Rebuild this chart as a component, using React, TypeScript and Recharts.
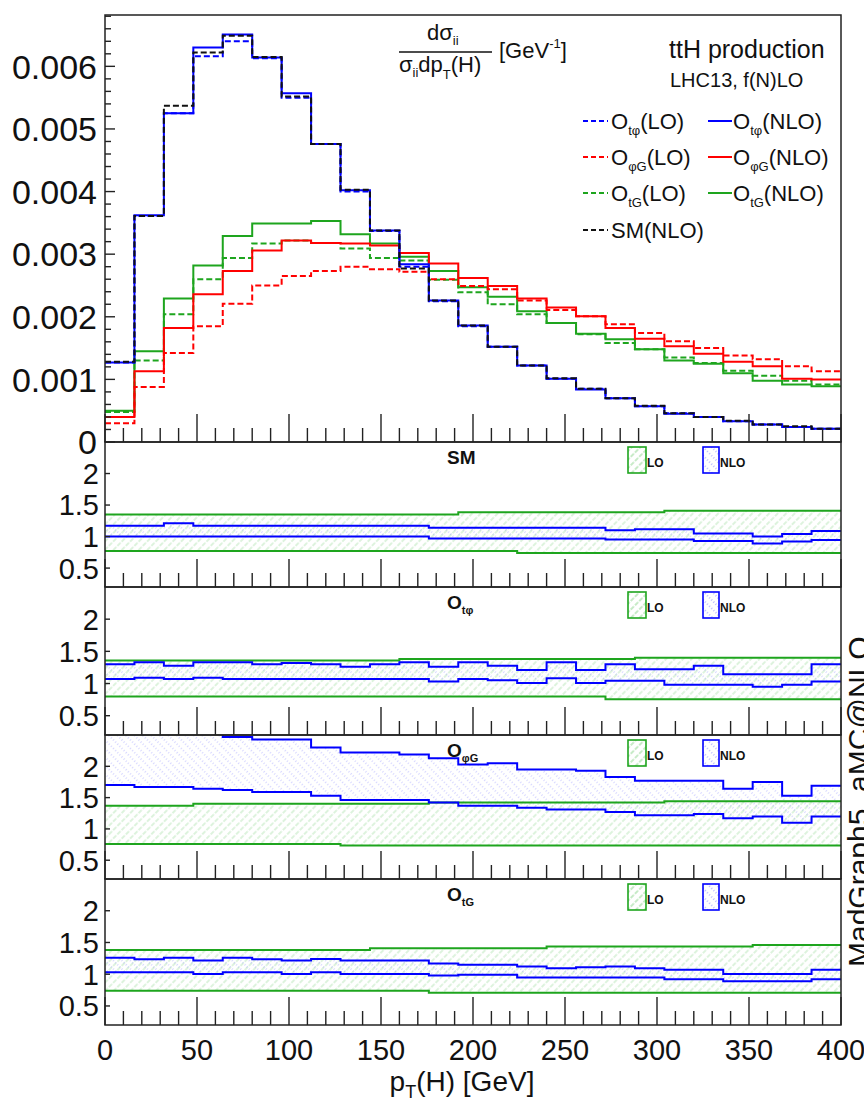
import React from 'react';
import { ComposedChart, Line, Area, XAxis, YAxis } from 'recharts';

const FONT = '"Liberation Sans", Arial, Helvetica, sans-serif';
const W = 864;
const H = 1102;
const PLOT_L = 105;
const PLOT_R = 841;
const MAIN_TOP = 15;
const MAIN_BOTTOM = 442;
const Y_AXIS_W = 60;
const X_AXIS_H = 30;

const BLUE = '#0000ff';
const RED = '#ff0000';
const GREEN = '#1ea51e';
const BLACK = '#111';
const FRAME = '#222';

// pT(H) bin edges, GeV
const binEdges = [0, 16, 32, 48, 64, 80, 96, 112, 128, 144, 160, 176, 192, 208, 224, 240, 256, 272, 288, 304, 320, 336, 352, 368, 384, 400];
const xTickLabels = [0, 50, 100, 150, 200, 250, 300, 350, 400];
const xTicks = Array.from({ length: 41 }, (_, i) => i * 10);

// main panel: normalised distributions
const tphiNLO = [0.00127, 0.00362, 0.00525, 0.0063, 0.00651, 0.00614, 0.00557, 0.00476, 0.00402, 0.00338, 0.00284, 0.00226, 0.00186, 0.00152, 0.00122, 0.00101, 0.00084, 0.0007, 0.00057, 0.00045, 0.0004, 0.00033, 0.00028, 0.00024, 0.00021];
const tphiLO = [0.00127, 0.00361, 0.00525, 0.00616, 0.0064, 0.00613, 0.0055, 0.00476, 0.004, 0.00337, 0.0028, 0.00225, 0.00185, 0.00152, 0.00122, 0.00101, 0.00085, 0.0007, 0.00057, 0.00046, 0.0004, 0.00033, 0.00028, 0.00024, 0.00021];
const smNLO = [0.00128, 0.00361, 0.00537, 0.00622, 0.00649, 0.00615, 0.00552, 0.00476, 0.00403, 0.00338, 0.00277, 0.00226, 0.00186, 0.00152, 0.00122, 0.00102, 0.00085, 0.0007, 0.00058, 0.00046, 0.0004, 0.00034, 0.00028, 0.00025, 0.00021];
const phiGNLO = [0.0004, 0.00113, 0.00182, 0.00236, 0.00273, 0.00306, 0.00322, 0.00318, 0.00317, 0.00314, 0.00302, 0.00285, 0.00262, 0.00249, 0.00229, 0.00215, 0.00201, 0.00182, 0.00165, 0.00153, 0.00141, 0.00128, 0.00121, 0.00101, 0.001];
const phiGLO = [0.0003, 0.00088, 0.00142, 0.00185, 0.00221, 0.0025, 0.00265, 0.00273, 0.0028, 0.00276, 0.00272, 0.0026, 0.00249, 0.00244, 0.00226, 0.00211, 0.00201, 0.00188, 0.00174, 0.00161, 0.0015, 0.00138, 0.00132, 0.00121, 0.00113];
const tGNLO = [0.0005, 0.00145, 0.00229, 0.00282, 0.00329, 0.00349, 0.00349, 0.00353, 0.00332, 0.00317, 0.00296, 0.00273, 0.00247, 0.00232, 0.00209, 0.0019, 0.00173, 0.00164, 0.00148, 0.0013, 0.00125, 0.0011, 0.00098, 0.00092, 0.00089];
const tGLO = [0.00048, 0.0013, 0.00204, 0.0026, 0.00294, 0.00317, 0.00322, 0.00318, 0.00309, 0.00294, 0.0029, 0.00259, 0.00239, 0.0022, 0.00204, 0.0019, 0.00172, 0.00158, 0.00148, 0.00135, 0.00126, 0.00114, 0.00106, 0.00098, 0.00092];

const mainYLabels = [0, 0.001, 0.002, 0.003, 0.004, 0.005, 0.006];
const mainYTicks = Array.from({ length: 35 }, (_, i) => +(i * 0.0002).toFixed(4));

// ratio panels: scale uncertainty bands
const smLoLow = [0.77, 0.77, 0.77, 0.77, 0.77, 0.77, 0.77, 0.77, 0.77, 0.77, 0.77, 0.77, 0.77, 0.77, 0.74, 0.74, 0.74, 0.74, 0.74, 0.74, 0.74, 0.74, 0.74, 0.74, 0.74];
const smLoHigh = [1.35, 1.35, 1.35, 1.35, 1.35, 1.35, 1.35, 1.35, 1.35, 1.35, 1.35, 1.35, 1.385, 1.385, 1.385, 1.385, 1.385, 1.385, 1.385, 1.41, 1.41, 1.41, 1.41, 1.41, 1.41];
const smNloLow = [1.0, 1.0, 1.0, 1.0, 1.0, 1.0, 1.0, 1.0, 1.0, 1.0, 1.0, 0.97, 0.97, 0.97, 0.97, 0.97, 0.97, 0.955, 0.955, 0.955, 0.93, 0.93, 0.89, 0.92, 0.945];
const smNloHigh = [1.17, 1.17, 1.21, 1.17, 1.17, 1.17, 1.17, 1.17, 1.17, 1.17, 1.17, 1.14, 1.14, 1.14, 1.14, 1.14, 1.14, 1.1, 1.115, 1.115, 1.05, 1.05, 1.0, 1.04, 1.09];

const tphiLoLow = [0.8, 0.8, 0.8, 0.8, 0.8, 0.8, 0.8, 0.8, 0.8, 0.8, 0.8, 0.8, 0.8, 0.8, 0.8, 0.8, 0.8, 0.755, 0.755, 0.755, 0.755, 0.755, 0.755, 0.755, 0.755];
const tphiLoHigh = [1.357, 1.357, 1.357, 1.357, 1.357, 1.357, 1.357, 1.357, 1.357, 1.357, 1.38, 1.38, 1.38, 1.38, 1.38, 1.38, 1.38, 1.38, 1.4, 1.4, 1.4, 1.4, 1.4, 1.4, 1.4];
const tphiNloLow = [1.07, 1.09, 1.07, 1.09, 1.07, 1.07, 1.07, 1.07, 1.07, 1.07, 1.07, 1.03, 1.07, 1.05, 1.01, 1.08, 1.01, 1.045, 1.045, 0.98, 0.98, 0.98, 0.95, 0.98, 1.03];
const tphiNloHigh = [1.3, 1.33, 1.275, 1.33, 1.33, 1.3, 1.32, 1.3, 1.26, 1.3, 1.33, 1.26, 1.33, 1.275, 1.21, 1.33, 1.21, 1.3, 1.22, 1.22, 1.275, 1.145, 1.145, 1.145, 1.3];

const phiGLoLow = [0.76, 0.76, 0.76, 0.76, 0.76, 0.76, 0.76, 0.76, 0.735, 0.735, 0.735, 0.735, 0.735, 0.735, 0.735, 0.735, 0.735, 0.735, 0.735, 0.735, 0.735, 0.735, 0.735, 0.735, 0.735];
const phiGLoHigh = [1.37, 1.37, 1.37, 1.4, 1.4, 1.4, 1.4, 1.4, 1.4, 1.4, 1.4, 1.42, 1.42, 1.42, 1.42, 1.42, 1.42, 1.42, 1.42, 1.44, 1.44, 1.44, 1.44, 1.44, 1.44];
const phiGNloLow = [1.7, 1.67, 1.67, 1.64, 1.62, 1.59, 1.59, 1.53, 1.46, 1.46, 1.46, 1.42, 1.37, 1.37, 1.34, 1.31, 1.31, 1.27, 1.22, 1.22, 1.24, 1.17, 1.2, 1.1, 1.2];
const phiGNloHigh = [2.6, 2.6, 2.6, 2.6, 2.47, 2.43, 2.43, 2.3, 2.22, 2.22, 2.19, 2.13, 2.03, 2.05, 1.95, 1.95, 1.93, 1.83, 1.77, 1.77, 1.77, 1.64, 1.75, 1.53, 1.69];

const tGLoLow = [0.74, 0.74, 0.74, 0.74, 0.74, 0.74, 0.74, 0.74, 0.74, 0.74, 0.74, 0.71, 0.71, 0.71, 0.71, 0.71, 0.71, 0.71, 0.71, 0.71, 0.71, 0.71, 0.71, 0.71, 0.71];
const tGLoHigh = [1.383, 1.383, 1.383, 1.383, 1.383, 1.383, 1.383, 1.383, 1.383, 1.41, 1.41, 1.41, 1.41, 1.41, 1.41, 1.435, 1.435, 1.435, 1.435, 1.435, 1.435, 1.435, 1.46, 1.46, 1.46];
const tGNloLow = [1.03, 1.03, 1.03, 1.005, 1.03, 1.03, 1.005, 1.03, 1.005, 1.005, 1.005, 0.98, 0.99, 0.99, 0.95, 0.95, 0.95, 0.95, 0.95, 0.92, 0.92, 0.89, 0.89, 0.89, 0.92];
const tGNloHigh = [1.26, 1.235, 1.26, 1.215, 1.26, 1.235, 1.215, 1.24, 1.215, 1.215, 1.215, 1.17, 1.15, 1.15, 1.12, 1.094, 1.11, 1.12, 1.094, 1.07, 1.07, 1.004, 1.004, 1.004, 1.07];

const ratioYLabels = [0.5, 1, 1.5, 2];

// histogram rows: value of bin i at its left edge, last value repeated at 400
function stepRows(cols: Record<string, number[]>) {
  return binEdges.map((x, i) => {
    const row: any = { x };
    for (const k in cols) row[k] = cols[k][Math.min(i, cols[k].length - 1)];
    return row;
  });
}

const mainRows = stepRows({ tphiNLO, tphiLO, smNLO, phiGNLO, phiGLO, tGNLO, tGLO });

const panels = [
  { id: 'sm', top: 442, bottom: 587, name: 'SM', sub: '', rows: stepRows({ loL: smLoLow, loH: smLoHigh, nloL: smNloLow, nloH: smNloHigh }) },
  { id: 'tphi', top: 587, bottom: 735, name: 'O', sub: 'tφ', rows: stepRows({ loL: tphiLoLow, loH: tphiLoHigh, nloL: tphiNloLow, nloH: tphiNloHigh }) },
  { id: 'phig', top: 735, bottom: 879, name: 'O', sub: 'φG', rows: stepRows({ loL: phiGLoLow, loH: phiGLoHigh, nloL: phiGNloLow, nloH: phiGNloHigh }) },
  { id: 'tg', top: 879, bottom: 1025, name: 'O', sub: 'tG', rows: stepRows({ loL: tGLoLow, loH: tGLoHigh, nloL: tGNloLow, nloH: tGNloHigh }) },
];

const XTick = ({ x, y, payload, labels }: any) => {
  const v = payload.value;
  const major = v % 50 === 0;
  return (
    <g>
      <line x1={x} x2={x} y1={y} y2={y - (major ? 28 : 14)} stroke={FRAME} strokeWidth={1.4} />
      {labels && xTickLabels.includes(v) && (
        <text x={x} y={y + 35} textAnchor="middle" fontFamily={FONT} fontSize={29} fill="#111">{v}</text>
      )}
    </g>
  );
};

const MainYTick = ({ x, y, payload }: any) => {
  const v = payload.value;
  const major = mainYLabels.some((m) => Math.abs(m - v) < 1e-7);
  return (
    <g>
      <line x1={x} x2={x + (major ? 10 : 6)} y1={y} y2={y} stroke={FRAME} strokeWidth={1.4} />
      {major && (
        <text x={x - 8} y={y} dy="0.36em" textAnchor="end" fontFamily={FONT} fontSize={34} fill="#111">
          {v === 0 ? '0' : v.toFixed(3)}
        </text>
      )}
    </g>
  );
};

const RatioYTick = ({ x, y, payload }: any) => (
  <g>
    <line x1={x} x2={x + 5} y1={y} y2={y} stroke={FRAME} strokeWidth={1.4} />
    <text x={x - 6} y={y} dy="0.36em" textAnchor="end" fontFamily={FONT} fontSize={29} fill="#111">{payload.value}</text>
  </g>
);

const Patterns = ({ id }: { id: string }) => (
  <defs>
    <pattern id={`lo-${id}`} width="6" height="6" patternUnits="userSpaceOnUse" patternTransform="rotate(45)">
      <line x1="1" y1="0" x2="1" y2="6" stroke="#8fd68f" strokeWidth="1" strokeDasharray="3 1.5" />
    </pattern>
    <pattern id={`nlo-${id}`} width="6" height="6" patternUnits="userSpaceOnUse" patternTransform="rotate(-45)">
      <line x1="1" y1="0" x2="1" y2="6" stroke="#8a8aff" strokeWidth="1.1" strokeDasharray="1 2" />
    </pattern>
  </defs>
);

const abs = { position: 'absolute' as const, left: 0, top: 0 };

const panelMargin = (top: number, bottom: number) => ({
  top,
  right: W - PLOT_R,
  bottom: H - bottom - X_AXIS_H,
  left: PLOT_L - Y_AXIS_W,
});

const xAxisCommon = {
  type: 'number' as const,
  dataKey: 'x',
  domain: [0, 400],
  ticks: xTicks,
  interval: 0 as const,
  height: X_AXIS_H,
  tickSize: 0,
  tickMargin: 0,
  axisLine: false,
  tickLine: false,
};

function MainPanel() {
  return (
    <div style={abs}>
      <ComposedChart width={W} height={H} data={mainRows} margin={panelMargin(MAIN_TOP, MAIN_BOTTOM)}>
        <XAxis {...xAxisCommon} tick={(p: any) => <XTick {...p} labels={false} />} />
        <YAxis type="number" domain={[0, 0.00682]} ticks={mainYTicks} interval={0} width={Y_AXIS_W} tickSize={0} tickMargin={0} axisLine={false} tickLine={false} allowDataOverflow tick={(p: any) => <MainYTick {...p} />} />
        <Line type="stepAfter" dataKey="tGLO" stroke={GREEN} strokeWidth={2} strokeDasharray="6 3" dot={false} isAnimationActive={false} />
        <Line type="stepAfter" dataKey="tGNLO" stroke={GREEN} strokeWidth={2} dot={false} isAnimationActive={false} />
        <Line type="stepAfter" dataKey="phiGLO" stroke={RED} strokeWidth={2} strokeDasharray="6 3" dot={false} isAnimationActive={false} />
        <Line type="stepAfter" dataKey="phiGNLO" stroke={RED} strokeWidth={2} dot={false} isAnimationActive={false} />
        <Line type="stepAfter" dataKey="tphiNLO" stroke={BLUE} strokeWidth={2} dot={false} isAnimationActive={false} />
        <Line type="stepAfter" dataKey="tphiLO" stroke={BLUE} strokeWidth={2} strokeDasharray="6 3" dot={false} isAnimationActive={false} />
        <Line type="stepAfter" dataKey="smNLO" stroke={BLACK} strokeWidth={2} strokeDasharray="6 3" dot={false} isAnimationActive={false} />
      </ComposedChart>
    </div>
  );
}

function RatioPanel({ p, last }: { p: (typeof panels)[number]; last: boolean }) {
  return (
    <div style={abs}>
      <ComposedChart width={W} height={H} data={p.rows} margin={panelMargin(p.top, p.bottom)}>
        <Patterns id={p.id} />
        <XAxis {...xAxisCommon} tick={(t: any) => <XTick {...t} labels={last} />} />
        <YAxis type="number" domain={[0.2, 2.5]} ticks={ratioYLabels} interval={0} width={Y_AXIS_W} tickSize={0} tickMargin={0} axisLine={false} tickLine={false} allowDataOverflow tick={(t: any) => <RatioYTick {...t} />} />
        <Area type="stepAfter" dataKey={(d: any) => [d.loL, d.loH]} fill={`url(#lo-${p.id})`} stroke="none" isAnimationActive={false} />
        <Area type="stepAfter" dataKey={(d: any) => [d.nloL, d.nloH]} fill={`url(#nlo-${p.id})`} stroke="none" isAnimationActive={false} />
        <Line type="stepAfter" dataKey="loH" stroke={GREEN} strokeWidth={2} dot={false} isAnimationActive={false} />
        <Line type="stepAfter" dataKey="loL" stroke={GREEN} strokeWidth={2} dot={false} isAnimationActive={false} />
        <Line type="stepAfter" dataKey="nloH" stroke={BLUE} strokeWidth={2} dot={false} isAnimationActive={false} />
        <Line type="stepAfter" dataKey="nloL" stroke={BLUE} strokeWidth={2} dot={false} isAnimationActive={false} />
      </ComposedChart>
    </div>
  );
}

const legendRows = [
  { y: 121, color: BLUE, sub: 'tφ' },
  { y: 157, color: RED, sub: 'φG' },
  { y: 193, color: GREEN, sub: 'tG' },
];

function Overlay() {
  const t = { fontFamily: FONT, fill: '#111' };
  return (
    <svg width={W} height={H} style={{ ...abs, pointerEvents: 'none' }}>
      <defs>
        <pattern id="lo-key" width="6" height="6" patternUnits="userSpaceOnUse" patternTransform="rotate(45)">
          <line x1="1" y1="0" x2="1" y2="6" stroke="#8fd68f" strokeWidth="1" strokeDasharray="3 1.5" />
        </pattern>
        <pattern id="nlo-key" width="6" height="6" patternUnits="userSpaceOnUse" patternTransform="rotate(-45)">
          <line x1="1" y1="0" x2="1" y2="6" stroke="#8a8aff" strokeWidth="1.1" strokeDasharray="1 2" />
        </pattern>
      </defs>

      {/* frames */}
      <rect x={PLOT_L} y={MAIN_TOP} width={PLOT_R - PLOT_L} height={MAIN_BOTTOM - MAIN_TOP} fill="none" stroke={FRAME} strokeWidth={1.5} />
      {panels.map((p) => (
        <rect key={p.id} x={PLOT_L} y={p.top} width={PLOT_R - PLOT_L} height={p.bottom - p.top} fill="none" stroke={FRAME} strokeWidth={1.5} />
      ))}

      {/* y title as fraction */}
      <text {...t} x={427} y={40} fontSize={22}>dσ<tspan fontSize={13} dy={5}>ii</tspan></text>
      <line x1={399} x2={492} y1={52} y2={52} stroke="#111" strokeWidth={1.4} />
      <text {...t} x={399} y={72} fontSize={22}>σ<tspan fontSize={13} dy={5}>ii</tspan><tspan dy={-5}>dp</tspan><tspan fontSize={13} dy={7}>T</tspan><tspan dy={-7}>(H)</tspan></text>
      <text {...t} x={499} y={58} fontSize={22}>[GeV<tspan fontSize={13} dy={-10}>-1</tspan><tspan dy={10}>]</tspan></text>

      <text {...t} x={669} y={58} fontSize={25}>ttH production</text>
      <text {...t} x={670} y={87} fontSize={20}>LHC13, f(N)LO</text>

      {/* legend */}
      {legendRows.map((r) => (
        <g key={r.sub}>
          <line x1={583} x2={608} y1={r.y} y2={r.y} stroke={r.color} strokeWidth={2} strokeDasharray="5 3" />
          <text {...t} x={611} y={r.y + 8} fontSize={22}>O<tspan fontSize={13} dy={6}>{r.sub}</tspan><tspan dy={-6}>(LO)</tspan></text>
          <line x1={708} x2={732} y1={r.y} y2={r.y} stroke={r.color} strokeWidth={2} />
          <text {...t} x={733} y={r.y + 8} fontSize={22}>O<tspan fontSize={13} dy={6}>{r.sub}</tspan><tspan dy={-6}>(NLO)</tspan></text>
        </g>
      ))}
      <line x1={583} x2={608} y1={230} y2={230} stroke={BLACK} strokeWidth={2} strokeDasharray="5 3" />
      <text {...t} x={611} y={238} fontSize={22}>SM(NLO)</text>

      {/* ratio panel labels and band keys */}
      {panels.map((p) => (
        <g key={`lab-${p.id}`}>
          <text {...t} x={447} y={p.top + 22} fontSize={19} fontWeight="bold">
            {p.name}
            {p.sub && <tspan fontSize={11} dy={5}>{p.sub}</tspan>}
          </text>
          <rect x={628} y={p.top + 5} width={18} height={26} fill="url(#lo-key)" stroke={GREEN} strokeWidth={1.6} />
          <text {...t} x={647} y={p.top + 25} fontSize={12} fontWeight="bold">LO</text>
          <rect x={703} y={p.top + 5} width={16} height={26} fill="url(#nlo-key)" stroke={BLUE} strokeWidth={1.6} />
          <text {...t} x={720} y={p.top + 25} fontSize={12} fontWeight="bold">NLO</text>
        </g>
      ))}

      {/* x title */}
      <text {...t} x={462} y={1091} fontSize={28} textAnchor="middle">p<tspan fontSize={18} dy={7}>T</tspan><tspan dy={-7}>(H) [GeV]</tspan></text>

      {/* generator tag, clipped at the page edge as in the original */}
      <text {...t} x={0} y={0} fontSize={30} transform="translate(869,967) rotate(-90)">MadGraph5_aMC@NLO</text>
    </svg>
  );
}

export default function App() {
  return (
    <div style={{ position: 'absolute', left: 0, top: 0, width: W, height: H, background: '#fff' }}>
      <MainPanel />
      {panels.map((p, i) => (
        <RatioPanel key={p.id} p={p} last={i === panels.length - 1} />
      ))}
      <Overlay />
    </div>
  );
}
